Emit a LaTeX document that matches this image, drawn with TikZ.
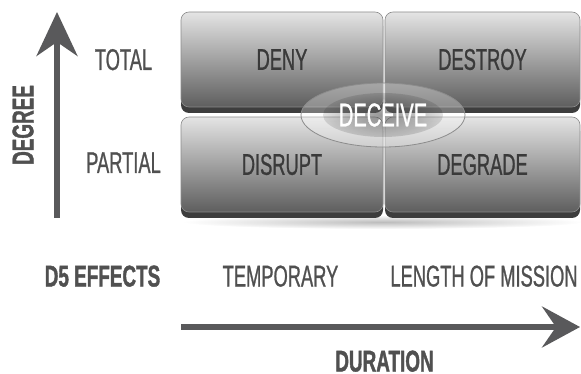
\documentclass[tikz,border=0pt]{standalone}
\usepackage{fontspec}
\setmainfont{Liberation Sans}
\newfontfamily\condfont[FakeStretch=0.61, FakeBold=0.8]{Liberation Sans}
\newfontfamily\condboldfont[FakeStretch=0.63, FakeBold=1.2]{Liberation Sans}
\usetikzlibrary{arrows.meta,shapes.geometric,fadings}

\definecolor{axisgray}{HTML}{59595B}
\definecolor{labelgray}{HTML}{505050}
\definecolor{boxtext}{HTML}{3A3A3A}
\definecolor{boxtop}{HTML}{E4E4E4}
\definecolor{boxmid}{HTML}{A9A9A9}
\definecolor{boxbot}{HTML}{5E5E5E}
\definecolor{boxbase}{HTML}{3D3D3D}
\definecolor{boxline}{HTML}{8C8C8C}

\tikzfading[name=softglow, inner color=transparent!25, outer color=transparent!100]

\tikzset{
  big/.style={font=\condfont\fontsize{30}{36}\selectfont},
  bigbold/.style={font=\condboldfont\bfseries\fontsize{30}{36}\selectfont},
  label/.style={big, text=labelgray, inner sep=0pt, anchor=base},
  boldlabel/.style={bigbold, text=labelgray, inner sep=0pt, anchor=base},
  effectbox/.style={big, text=boxtext, rounded corners=8pt, draw=boxline, line width=0.6pt,
    top color=boxtop, middle color=boxmid, bottom color=boxbot, inner sep=0pt,
    minimum height=95pt,
    preaction={fill=boxbase, transform canvas={yshift=-6pt}}},
  axisarrow/.style={draw=axisgray, line width=5.5pt,
    -{Stealth[length=#1, width=41pt, inset=14pt, fill=axisgray]}},
}

\begin{document}
\begin{tikzpicture}[x=1pt, y=-1pt]
  \useasboundingbox (0,0) rectangle (581,374);

  % soft shadow beneath the lower row
  \fill[black, opacity=0.35, path fading=softglow] (383,222) ellipse (200 and 7);

  % the four effect boxes
  \node[effectbox, minimum width=202pt] (deny)    at (282,59.5)  {DENY};
  \node[effectbox, minimum width=195pt] (destroy) at (482.5,59.5) {DESTROY};
  \node[effectbox, minimum width=202pt] (disrupt) at (282,164.5) {DISRUPT};
  \node[effectbox, minimum width=195pt] (degrade) at (482.5,164.5) {DEGRADE};

  % deception spans every box
  \node[ellipse, font=\condfont\fontsize{33}{38}\selectfont, text=white,
        draw=boxline, line width=0.8pt,
        fill=white, fill opacity=0.3, text opacity=1,
        minimum width=164pt, minimum height=64pt, inner sep=0pt,
        path picture={\fill[black, path fading=softglow, fill opacity=0.55]
          (path picture bounding box.center) ellipse (60 and 22);}]
        (deceive) at (383,115) {DECEIVE};

  % degree axis
  \coordinate (vbot) at (57,218);
  \coordinate (vtop) at (57,12);
  \draw[axisarrow=44pt] (vbot) -- (vtop);
  \node[bigbold, text=labelgray, rotate=90, inner sep=0pt] (degree) at (23,125) {DEGREE};
  \node[label] (total)   at (123.5,70)  {TOTAL};
  \node[label] (partial) at (123.5,173) {PARTIAL};

  % duration axis
  \coordinate (hleft)  at (181,327);
  \coordinate (hright) at (580,327);
  \draw[axisarrow=38pt] (hleft) -- (hright);
  \node[boldlabel] (effects)   at (102.5,286.5) {D5 EFFECTS};
  \node[label]     (temporary) at (280.5,286.5) {TEMPORARY};
  \node[label]     (mission)   at (484,286.5)   {LENGTH OF MISSION};
  \node[boldlabel] (duration)  at (384.5,371.5) {DURATION};
\end{tikzpicture}
\end{document}
